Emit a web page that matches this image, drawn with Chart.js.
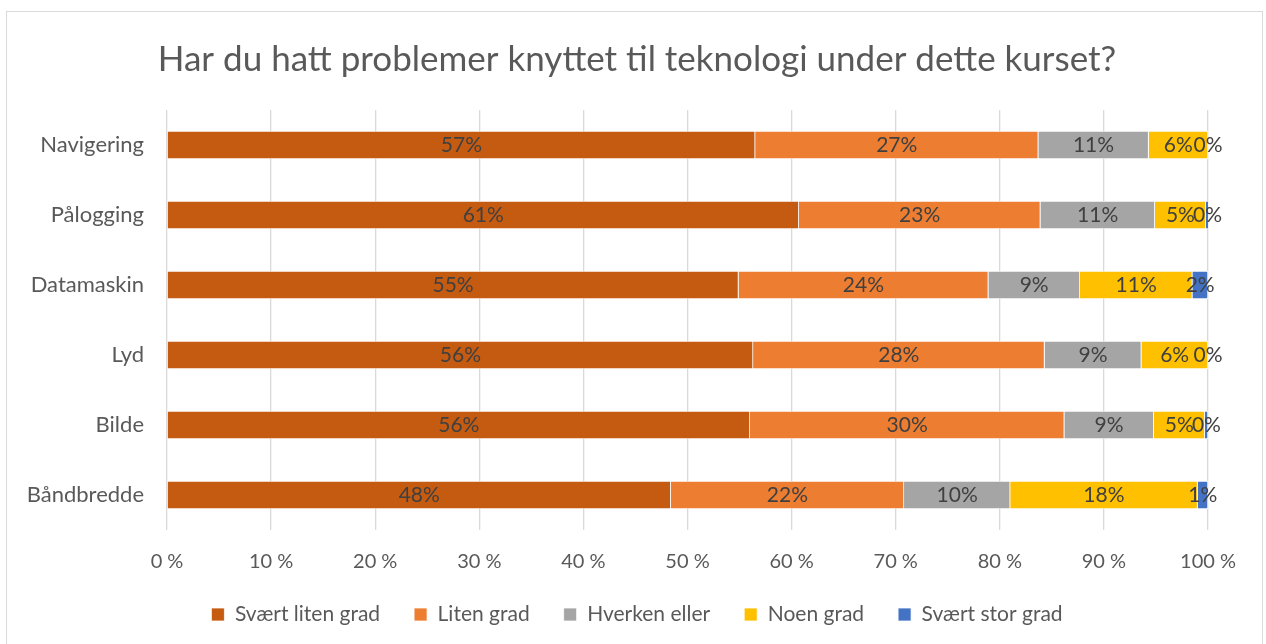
<!DOCTYPE html>
<html>
<head>
<meta charset="utf-8">
<script src="https://cdn.jsdelivr.net/npm/chart.js@4/dist/chart.umd.min.js"></script>
<style>
  body { margin: 0; background: #fff; }
  #wrap { position: relative; width: 1266px; height: 644px; }
  #frame { position: absolute; left: 6px; top: 11px; width: 1255px; height: 640px; border: 1px solid #d9d9d9; }
  canvas { position: absolute; left: 0; top: 0; }
</style>
</head>
<body>
<div id="wrap">
  <div id="frame"></div>
  <canvas id="myChart" width="1266" height="644"></canvas>
</div>
<script>
// kategorier (ovenfra og ned)
const kategorier = ['Navigering', 'Pålogging', 'Datamaskin', 'Lyd', 'Bilde', 'Båndbredde'];

// andel i prosent per svaralternativ
const svaertLiten = [56.5, 60.7, 54.9, 56.3, 56.0, 48.4];
const liten       = [27.2, 23.2, 24.0, 28.0, 30.2, 22.4];
const hverken     = [10.6, 11.0, 8.8, 9.3, 8.6, 10.2];
const noen        = [5.7, 4.9, 10.8, 6.4, 4.9, 18.0];
const svaertStor  = [0, 0.3, 1.5, 0, 0.3, 1.0];

const seriNavn = ['Svært liten grad', 'Liten grad', 'Hverken eller', 'Noen grad', 'Svært stor grad'];
const farger = ['#C55A11', '#ED7D31', '#A5A5A5', '#FFC000', '#4472C4'];
const xTicks = [0, 10, 20, 30, 40, 50, 60, 70, 80, 90, 100];

const FONT = 'Lato, "Open Sans", sans-serif';
const ctx = document.getElementById('myChart').getContext('2d');

// tegner prosent-etikettene midt i hvert segment
const dataEtiketter = {
    id: 'dataEtiketter',
    afterDatasetsDraw(chart) {
        const c = chart.ctx;
        c.save();
        c.font = '21px ' + FONT;
        c.fillStyle = '#404040';
        c.textAlign = 'center';
        c.textBaseline = 'middle';
        chart.data.datasets.forEach((ds, i) => {
            const meta = chart.getDatasetMeta(i);
            meta.data.forEach((bar, j) => {
                const v = ds.data[j];
                c.fillText(Math.round(v) + '%', (bar.x + bar.base) / 2, bar.y);
            });
        });
        c.restore();
    }
};

// tittel og forklaring sentreres over hele rammen, ikke bare plottet
const sentrer = {
    id: 'sentrer',
    afterLayout(chart) {
        [chart.titleBlock, chart.legend].forEach(b => {
            if (b) {
                b.left = 66;
                b.right = 1208;
            }
        });
        if (chart.legend) {
            chart.legend.top -= 5;
            chart.legend.bottom -= 5;
        }
    }
};

const serier = [svaertLiten, liten, hverken, noen, svaertStor];

const myChart = new Chart(ctx, {
    type: 'bar',
    data: {
        labels: kategorier,
        datasets: serier.map((d, i) => ({
            label: seriNavn[i],
            data: d,
            backgroundColor: farger[i],
            borderColor: '#ffffff',
            borderWidth: 0.75,
            barPercentage: 0.4,
            categoryPercentage: 1
        }))
    },
    options: {
        indexAxis: 'y',
        responsive: false,
        animation: false,
        layout: {
            padding: { top: 11, left: 0, right: 58, bottom: 4 }
        },
        scales: {
            x: {
                stacked: true,
                min: 0,
                max: 100,
                afterBuildTicks: function(scale) {
                    scale.ticks = xTicks.map(v => ({ value: v }));
                },
                afterFit: function(scale) {
                    scale.height = 45;
                },
                ticks: {
                    color: '#595959',
                    font: { family: FONT, size: 20 },
                    padding: 20,
                    maxRotation: 0,
                    callback: function(value) {
                        return value + ' %';
                    }
                },
                grid: {
                    color: '#d9d9d9',
                    lineWidth: 1.3,
                    drawTicks: false
                },
                border: { display: false }
            },
            y: {
                stacked: true,
                afterFit: function(scale) {
                    scale.width = 167;
                },
                ticks: {
                    color: '#595959',
                    font: { family: FONT, size: 22 },
                    padding: 23
                },
                grid: { display: false, drawTicks: false },
                border: { display: false }
            }
        },
        plugins: {
            title: {
                display: true,
                text: 'Har du hatt problemer knyttet til teknologi under dette kurset?',
                color: '#595959',
                font: { family: FONT, size: 35, weight: 'normal' },
                padding: { top: 27.6, bottom: 29.4 }
            },
            legend: {
                position: 'bottom',
                labels: {
                    color: '#595959',
                    font: { family: FONT, size: 21 },
                    boxWidth: 13,
                    boxHeight: 13,
                    padding: 34
                }
            },
            tooltip: { enabled: false }
        }
    },
    plugins: [dataEtiketter, sentrer]
});
</script>
</body>
</html>
